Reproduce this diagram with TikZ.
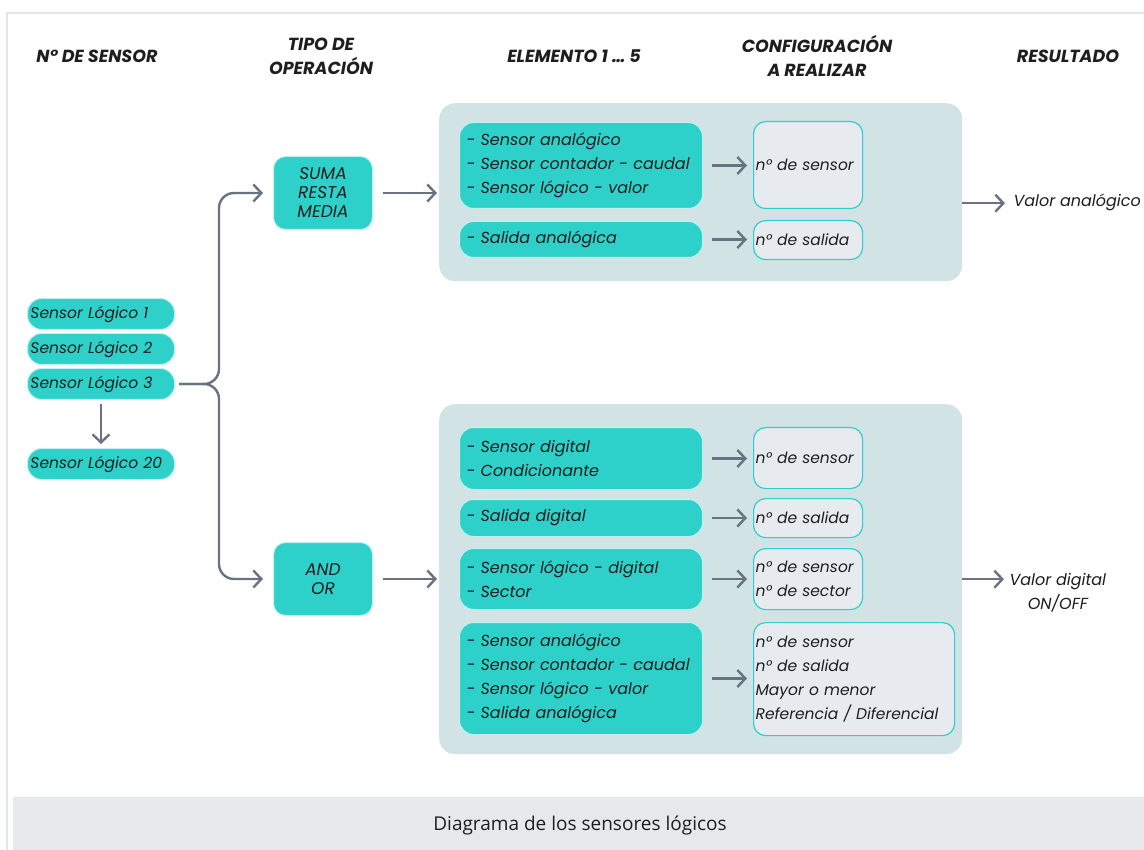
\documentclass[tikz,border=0pt]{standalone}
\usepackage{fontspec}
\setmainfont{Poppins}
\newfontfamily\capfont{Open Sans}
\usetikzlibrary{positioning,arrows.meta}

\definecolor{turq}{HTML}{2DD1C9}
\definecolor{panelbg}{HTML}{D1E3E5}
\definecolor{cfgbg}{HTML}{E7EBEF}
\definecolor{arrowgray}{HTML}{687280}
\definecolor{framegray}{HTML}{E3E7EA}
\definecolor{capbg}{HTML}{E6E9EC}
\definecolor{ink}{HTML}{1E1E1E}

\begin{document}
\begin{tikzpicture}[
  x=1pt, y=-1pt,
  every node/.style={text=ink},
  head/.style={font=\fontsize{17.5}{24}\selectfont\bfseries\itshape, align=center},
  pill/.style={rectangle, rounded corners=14pt, fill=turq, draw=white!70!turq, line width=1pt,
               minimum width=147pt, minimum height=31pt, text width=141pt, inner xsep=3pt,
               align=left, font=\fontsize{15.5}{18}\selectfont\itshape},
  opbox/.style={rectangle, rounded corners=12pt, fill=turq, draw=white!70!turq, line width=1pt,
                minimum width=99pt, minimum height=73pt, align=center, anchor=north west,
                font=\fontsize{17}{19}\selectfont\itshape},
  panel/.style={rectangle, rounded corners=16pt, fill=panelbg, minimum width=523pt, anchor=north west},
  elem/.style={rectangle, rounded corners=14pt, fill=turq, draw=white!70!turq, line width=1pt,
               minimum width=243pt, text width=229pt, inner xsep=7pt, align=left, anchor=north west,
               font=\fontsize{16}{24}\selectfont\itshape},
  cfg/.style={rectangle, rounded corners=12pt, fill=cfgbg, draw=turq, line width=1.2pt,
              text width=#1, inner xsep=2pt, align=left, anchor=north west,
              font=\fontsize{15.5}{24}\selectfont\itshape},
  cfg/.default=105pt,
  result/.style={font=\fontsize{16}{24}\selectfont\itshape, align=center},
  arr/.style={-{Straight Barb[length=8pt,width=17pt]}, line width=2.4pt, draw=arrowgray}
]
\useasboundingbox (0,0) rectangle (1144,850);

% frame and caption bar
\draw[framegray, line width=2pt] (7,850) -- (7,13) -- (1144,13);
\fill[capbg] (13,797) rectangle (1144,850);
\node[font=\capfont\fontsize{19}{22}\selectfont] (caption) at (580,826) {Diagrama de los sensores lógicos};

% column headings
\node[head] (hsens) at (97,56)   {N° DE SENSOR};
\node[head] (hop)   at (321,56)  {TIPO DE\\OPERACIÓN};
\node[head] (helem) at (574,56)  {ELEMENTO 1 … 5};
\node[head] (hcfg)  at (817,56)  {CONFIGURACIÓN\\A REALIZAR};
\node[head] (hres)  at (1068,56) {RESULTADO};

% logical sensors
\node[pill, anchor=north west] (s1) at (27,298) {Sensor Lógico 1};
\node[pill, below=3pt of s1]  (s2)  {Sensor Lógico 2};
\node[pill, below=3pt of s2]  (s3)  {Sensor Lógico 3};
\node[pill, below=48pt of s3] (s20) {Sensor Lógico 20};
\draw[arr] ([yshift=-4pt]s3.south) -- ([yshift=4pt]s20.north);

% operation type
\node[opbox] (opA) at (273,156) {SUMA\\RESTA\\MEDIA};
\node[opbox] (opB) at (273,542) {AND\\OR};
\coordinate[right=44pt of s3.east] (fork);
\draw[arr, rounded corners=15pt] ([xshift=4pt]s3.east) -- (fork) -- (fork |- opA.west) -- ([xshift=-10pt]opA.west);
\draw[arr, rounded corners=15pt] ([xshift=4pt]s3.east) -- (fork) -- (fork |- opB.west) -- ([xshift=-10pt]opB.west);

% analog group
\node[panel, minimum height=178pt] (panA) at (439,103) {};
\node[elem, minimum height=86pt] (eA1) at (459,122) {- Sensor analógico\\- Sensor contador - caudal\\- Sensor lógico - valor};
\node[elem, minimum height=36pt] (eA2) at (459,221) {- Salida analógica};
\node[cfg, minimum height=87pt] (cA1) at (753,121) {n° de sensor};
\node[cfg, minimum height=39pt] (cA2) at (753,220) {n° de salida};
\draw[arr] ([xshift=10pt]opA.east) -- ([xshift=-2pt]opA.east -| panA.west);
\draw[arr] ([xshift=9pt]eA1.east) -- ([xshift=-6pt]eA1.east -| cA1.west);
\draw[arr] ([xshift=9pt]eA2.east) -- ([xshift=-6pt]eA2.east -| cA2.west);

% digital group
\node[panel, minimum height=350pt] (panB) at (439,404) {};
\node[elem, minimum height=62pt]  (eB1) at (459,427) {- Sensor digital\\- Condicionante};
\node[elem, minimum height=37pt]  (eB2) at (459,499) {- Salida digital};
\node[elem, minimum height=61pt]  (eB3) at (459,548) {- Sensor lógico - digital\\- Sector};
\node[elem, minimum height=112pt] (eB4) at (459,622) {- Sensor analógico\\- Sensor contador - caudal\\- Sensor lógico - valor\\- Salida analógica};
\node[cfg, minimum height=61pt]  (cB1) at (753,427) {n° de sensor};
\node[cfg, minimum height=39pt]  (cB2) at (753,498) {n° de salida};
\node[cfg, minimum height=61pt]  (cB3) at (753,548) {n° de sensor\\n° de sector};
\node[cfg=197pt, minimum height=113pt] (cB4) at (753,622) {n° de sensor\\n° de salida\\Mayor o menor\\Referencia / Diferencial};
\draw[arr] ([xshift=10pt]opB.east) -- ([xshift=-2pt]opB.east -| panB.west);
\foreach \i in {1,...,4}
  \draw[arr] ([xshift=9pt]eB\i.east) -- ([xshift=-6pt]eB\i.east -| cB\i.west);

% results
\node[result, anchor=west] (resA) at (1010,202) {Valor analógico};
\node[result, anchor=west] (resD) at (1006,593) {Valor digital\\ON/OFF};
\draw[arr] ([yshift=-11pt]panA.east) -- ([xshift=-5pt,yshift=-11pt]panA.east -| resA.west);
\draw[arr] (panB.east) -- ([xshift=-2pt]panB.east -| resD.west);
\end{tikzpicture}
\end{document}
